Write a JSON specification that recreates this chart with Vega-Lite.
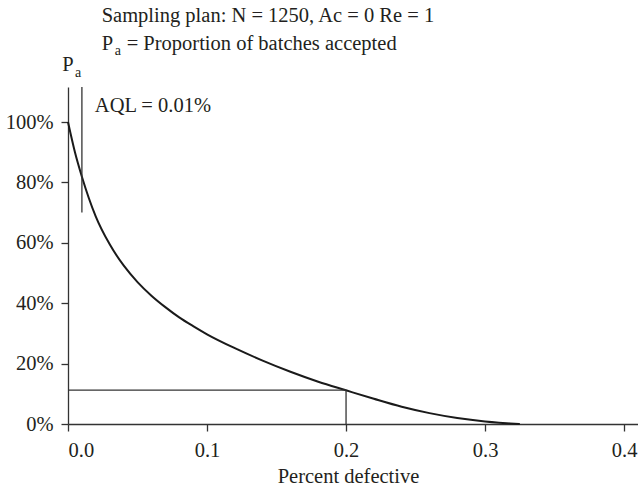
{
  "$schema": "https://vega.github.io/schema/vega-lite/v6.json",
  "width": 570,
  "height": 337,
  "autosize": {"type": "none"},
  "padding": {"left": 68, "top": 87, "right": 0, "bottom": 64},
  "background": "white",
  "config": {
    "view": {"stroke": null},
    "font": "Liberation Serif",
    "axis": {
      "grid": false,
      "domainColor": "#333333",
      "domainWidth": 1.3,
      "tickColor": "#333333",
      "tickWidth": 1.3,
      "tickSize": 7,
      "labelFont": "Liberation Serif",
      "labelFontSize": 20.5,
      "labelColor": "#231f20",
      "titleFont": "Liberation Serif",
      "titleFontSize": 20.5,
      "titleFontWeight": "normal",
      "titleColor": "#231f20"
    }
  },
  "datasets": {
    "curve": [
      {"p": 0.000, "pa": 1.000},
      {"p": 0.005, "pa": 0.900},
      {"p": 0.010, "pa": 0.819},
      {"p": 0.020, "pa": 0.687},
      {"p": 0.030, "pa": 0.595},
      {"p": 0.040, "pa": 0.525},
      {"p": 0.050, "pa": 0.470},
      {"p": 0.060, "pa": 0.425},
      {"p": 0.070, "pa": 0.387},
      {"p": 0.080, "pa": 0.353},
      {"p": 0.090, "pa": 0.324},
      {"p": 0.100, "pa": 0.297},
      {"p": 0.120, "pa": 0.251},
      {"p": 0.140, "pa": 0.210},
      {"p": 0.160, "pa": 0.173},
      {"p": 0.180, "pa": 0.140},
      {"p": 0.200, "pa": 0.1115},
      {"p": 0.220, "pa": 0.0834},
      {"p": 0.240, "pa": 0.057},
      {"p": 0.260, "pa": 0.036},
      {"p": 0.280, "pa": 0.0198},
      {"p": 0.300, "pa": 0.0085},
      {"p": 0.310, "pa": 0.0045},
      {"p": 0.318, "pa": 0.002},
      {"p": 0.325, "pa": 0.000}
    ],
    "vrules": [
      {"x": 0.01, "y": 0.70, "y2": 1.116},
      {"x": 0.2, "y": 0.0, "y2": 0.112}
    ],
    "hrules": [
      {"x": 0.0, "x2": 0.2, "y": 0.112}
    ]
  },
  "layer": [
    {
      "data": {"name": "curve"},
      "mark": {"type": "line", "color": "#1a1a1a", "strokeWidth": 2, "interpolate": "monotone"},
      "encoding": {
        "x": {
          "field": "p", "type": "quantitative",
          "scale": {"domain": [0, 0.41], "nice": false, "zero": true},
          "axis": {"values": [0, 0.1, 0.2, 0.3, 0.4], "format": ".1f", "labelPadding": 9, "title": "Percent defective", "titleX": 280, "titleY": 58, "titleBaseline": "alphabetic"}
        },
        "y": {
          "field": "pa", "type": "quantitative",
          "scale": {"domain": [0, 1.116], "nice": false},
          "axis": {"values": [0, 0.2, 0.4, 0.6, 0.8, 1.0], "format": ".0%", "labelPadding": 8, "title": null}
        }
      }
    },
    {
      "data": {"name": "vrules"},
      "mark": {"type": "rule", "color": "#333333", "strokeWidth": 1.3},
      "encoding": {
        "x": {"field": "x", "type": "quantitative"},
        "y": {"field": "y", "type": "quantitative"},
        "y2": {"field": "y2"}
      }
    },
    {
      "data": {"name": "hrules"},
      "mark": {"type": "rule", "color": "#333333", "strokeWidth": 1.3},
      "encoding": {
        "x": {"field": "x", "type": "quantitative"},
        "x2": {"field": "x2"},
        "y": {"field": "y", "type": "quantitative"}
      }
    },
    {
      "data": {"values": [{"t": "AQL = 0.01%"}]},
      "mark": {"type": "text", "align": "left", "baseline": "alphabetic", "fontSize": 20.5, "font": "Liberation Serif", "color": "#231f20"},
      "encoding": {"x": {"datum": 0.0193}, "y": {"datum": 1.033}, "text": {"field": "t"}}
    },
    {
      "data": {"values": [{"t": "Sampling plan: N = 1250, Ac = 0 Re = 1"}]},
      "mark": {"type": "text", "align": "left", "baseline": "alphabetic", "fontSize": 20.5, "font": "Liberation Serif", "color": "#231f20"},
      "encoding": {"x": {"datum": 0.0242}, "y": {"datum": 1.33}, "text": {"field": "t"}}
    },
    {
      "data": {"values": [{"t": "P"}]},
      "mark": {"type": "text", "align": "left", "baseline": "alphabetic", "fontSize": 20.5, "font": "Liberation Serif", "color": "#231f20"},
      "encoding": {"x": {"datum": 0.0242}, "y": {"datum": 1.237}, "text": {"field": "t"}}
    },
    {
      "data": {"values": [{"t": "a"}]},
      "mark": {"type": "text", "align": "left", "baseline": "alphabetic", "fontSize": 14, "font": "Liberation Serif", "color": "#231f20", "dx": 13},
      "encoding": {"x": {"datum": 0.0242}, "y": {"datum": 1.221}, "text": {"field": "t"}}
    },
    {
      "data": {"values": [{"t": "= Proportion of batches accepted"}]},
      "mark": {"type": "text", "align": "left", "baseline": "alphabetic", "fontSize": 20.5, "font": "Liberation Serif", "color": "#231f20", "dx": 25},
      "encoding": {"x": {"datum": 0.0242}, "y": {"datum": 1.237}, "text": {"field": "t"}}
    },
    {
      "data": {"values": [{"t": "P"}]},
      "mark": {"type": "text", "align": "center", "baseline": "alphabetic", "fontSize": 20.5, "font": "Liberation Serif", "color": "#231f20"},
      "encoding": {"x": {"datum": 0}, "y": {"datum": 1.168}, "text": {"field": "t"}}
    },
    {
      "data": {"values": [{"t": "a"}]},
      "mark": {"type": "text", "align": "left", "baseline": "alphabetic", "fontSize": 14, "font": "Liberation Serif", "color": "#231f20", "dx": 7},
      "encoding": {"x": {"datum": 0}, "y": {"datum": 1.148}, "text": {"field": "t"}}
    }
  ]
}
